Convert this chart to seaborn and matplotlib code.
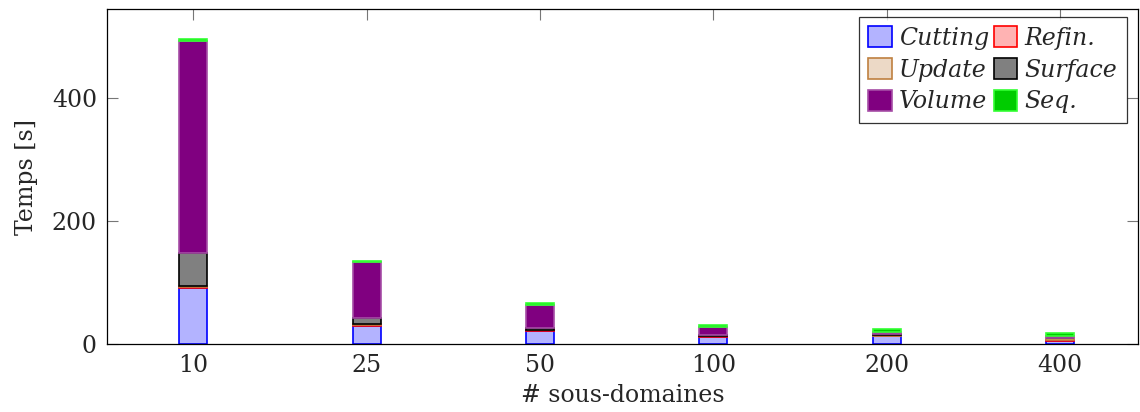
import numpy as np
import pandas as pd
import matplotlib
matplotlib.use("Agg")
import matplotlib.pyplot as plt
import seaborn as sns

# values (seconds)
subdomains = ["10", "25", "50", "100", "200", "400"]
cutting = [91, 30, 21, 12, 13, 5.5]
refin = [1, 1, 1, 0.5, 0.5, 0.5]
update = [1.5, 1, 1, 1, 1.5, 3]
surface = [54, 10, 3.5, 1.5, 2, 1.5]
volume = [344, 91, 37.5, 13, 3, 2]
seq = [4, 2, 2, 3, 4, 5]

layers = ["Cutting", "Refin.", "Update", "Surface", "Volume", "Seq."]
fills = ["#b3b3ff", "#ffb3b3", "#ecd9c6", "#808080", "#800080", "#00cc00"]
edges = ["#0000ff", "#ff0000", "#bf8040", "#000000", "#a64da6", "#33ff33"]

df = pd.DataFrame({"n": subdomains, "Cutting": cutting, "Refin.": refin,
                   "Update": update, "Surface": surface, "Volume": volume,
                   "Seq.": seq})

sns.set_style("ticks")
plt.rcParams["font.family"] = ["DejaVu Serif"]
plt.rcParams["font.size"] = 17

fig = plt.figure(figsize=(11.4, 4.12), dpi=100)
ax = fig.add_axes([0.0936, 0.165, 0.9046, 0.812])

bottom = np.zeros(len(subdomains))
for name, fc, ec in zip(layers, fills, edges):
    sns.barplot(data=df, x="n", y=name, order=subdomains, color=fc,
                edgecolor=ec, linewidth=1.2, width=0.16, bottom=bottom,
                saturation=1, errorbar=None, label=name, ax=ax)
    bottom = bottom + df[name].to_numpy()

ax.set_xlim(-0.5, 5.45)
ax.set_ylim(0, 543)
ax.set_yticks([0, 200, 400])
ax.set_xlabel("# sous-domaines", fontsize=17, labelpad=5)
ax.set_ylabel("Temps [s]", fontsize=17, labelpad=10)

for s in ax.spines.values():
    s.set_visible(True)
    s.set_color("black")
    s.set_linewidth(0.9)
ax.set_axisbelow(True)
ax.tick_params(axis="both", direction="in", length=8, width=0.8,
               color="#777777", top=True, right=True, labelsize=17, pad=7)

# row-wise legend order as in the original: Cutting/Refin., Update/Surface, Volume/Seq.
handles, labels = ax.get_legend_handles_labels()
order = [0, 2, 4, 1, 3, 5]
leg = ax.legend([handles[i] for i in order], [labels[i] for i in order],
                ncol=2, loc="upper right", bbox_to_anchor=(0.989, 0.979),
                borderaxespad=0, frameon=True, fancybox=False,
                edgecolor="black", prop={"style": "italic", "size": 17},
                handlelength=1.0, handleheight=1.0, handletextpad=0.3,
                columnspacing=0.2, labelspacing=0.35, borderpad=0.4)
leg.get_frame().set_linewidth(0.9)

plt.savefig("out.png", dpi=100)
